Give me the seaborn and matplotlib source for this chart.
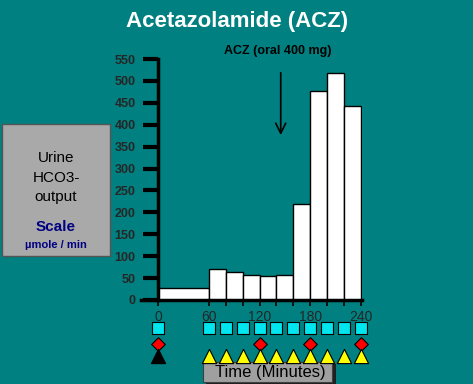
import numpy as np
import pandas as pd
import matplotlib
matplotlib.use("Agg")
import matplotlib.pyplot as plt
import seaborn as sns
from matplotlib.patches import Rectangle

# bin edges (minutes) and urine HCO3- output per bin (umol/min)
bin_edges = [0, 60, 80, 100, 120, 140, 160, 180, 200, 220, 240]
hco3_output = [27, 70, 63, 58, 55, 57, 220, 478, 517, 443]
y_ticks = list(range(0, 551, 50))
x_major = [0, 60, 120, 180, 240]
x_minor = [80, 100, 140, 160, 200, 220]

# sampling markers below the time axis
urine_times = [0, 60, 80, 100, 120, 140, 160, 180, 200, 220, 240]
blood_times = [0, 120, 180, 240]
acz_times = [0]
breath_times = [60, 80, 100, 120, 140, 160, 180, 200, 220, 240]
acz_dose_time = 145

teal = "#008080"

sns.set_theme(style="white")
plt.rcParams["font.family"] = ["Liberation Sans", "DejaVu Sans"]

fig = plt.figure(figsize=(4.73, 3.84), dpi=100, facecolor=teal)
ax = fig.add_axes([141 / 473, 1 - 300 / 384, 221 / 473, 241 / 384])
ax.set_facecolor(teal)

df = pd.DataFrame({"start": bin_edges[:-1], "value": hco3_output})
sns.histplot(data=df, x="start", weights="value", bins=bin_edges, ax=ax,
             color="white", edgecolor="black", linewidth=1, alpha=1)

ax.set_xlim(-20, 241)
ax.set_ylim(0, 550)
ax.set_xlabel("")
ax.set_ylabel("")
for s in ["top", "right"]:
    ax.spines[s].set_visible(False)
ax.spines["left"].set_position(("data", 0))
ax.spines["left"].set_linewidth(2.5)
ax.spines["bottom"].set_linewidth(2.5)
ax.spines["left"].set_color("black")
ax.spines["bottom"].set_color("black")

ax.set_yticks(y_ticks)
ax.set_yticklabels([str(v) for v in y_ticks], fontsize=9, fontweight="bold")
ax.tick_params(axis="y", direction="out", length=11, width=3, color="black",
               pad=5, left=True)
ax.set_xticks(x_major)
ax.set_xticks(x_minor, minor=True)
ax.set_xticklabels([str(v) for v in x_major], fontsize=10)
ax.tick_params(axis="x", which="both", direction="out", length=4, width=1.2,
               color="black", pad=3, bottom=True)

# markers below the axis
ax.scatter(urine_times, [-64] * len(urine_times), marker="s", s=72,
           color="#00e5ee", edgecolor="black", linewidth=0.8, clip_on=False, zorder=5)
ax.scatter(blood_times, [-101] * len(blood_times), marker="D", s=48,
           color="red", edgecolor="black", linewidth=0.8, clip_on=False, zorder=5)
ax.scatter(acz_times, [-127] * len(acz_times), marker="^", s=105,
           color="black", edgecolor="black", linewidth=0.8, clip_on=False, zorder=5)
ax.scatter(breath_times, [-127] * len(breath_times), marker="^", s=105,
           color="yellow", edgecolor="black", linewidth=0.8, clip_on=False, zorder=5)

# ACZ dose annotation
ax.annotate("", xy=(acz_dose_time, 370), xytext=(acz_dose_time, 525),
            arrowprops=dict(arrowstyle="->", color="black", lw=1.2,
                            mutation_scale=18))
ax.text(acz_dose_time - 4, 555, "ACZ (oral 400 mg)", ha="center", va="bottom",
        fontsize=9, fontweight="bold", color="black", clip_on=False)

# title
fig.text(237 / 473, 1 - 22 / 384, "Acetazolamide (ACZ)", ha="center", va="center",
         fontsize=16, fontweight="bold", color="white")

# left scale box
fig.patches.append(Rectangle((2 / 473, 1 - 256 / 384), 108 / 473, 132 / 384,
                             transform=fig.transFigure, facecolor="#a9a9a9",
                             edgecolor="#555555", linewidth=1))
for txt, yy in [("Urine", 158), ("HCO3-", 178), ("output", 197)]:
    fig.text(56 / 473, 1 - yy / 384, txt, ha="center", va="center",
             fontsize=11, color="black")
fig.text(56 / 473, 1 - 227 / 384, "Scale", ha="center", va="center",
         fontsize=11, fontweight="bold", color="#000080")
fig.text(56 / 473, 1 - 245 / 384, "\u00b5mole / min", ha="center", va="center",
         fontsize=8, fontweight="bold", color="#000080")

# time label box with shadow
fig.patches.append(Rectangle((206 / 473, 1 - 385 / 384), 130 / 473, 21 / 384,
                             transform=fig.transFigure, facecolor="#202020",
                             edgecolor="none", zorder=-2))
fig.patches.append(Rectangle((203 / 473, 1 - 382 / 384), 129 / 473, 20 / 384,
                             transform=fig.transFigure, facecolor="#a0a0a0",
                             edgecolor="#404040", linewidth=0.8, zorder=-1))
fig.text(270 / 473, 1 - 373 / 384, "Time (Minutes)", ha="center", va="center",
         fontsize=12, color="black")

fig.savefig("out.png", dpi=100, facecolor=teal)
